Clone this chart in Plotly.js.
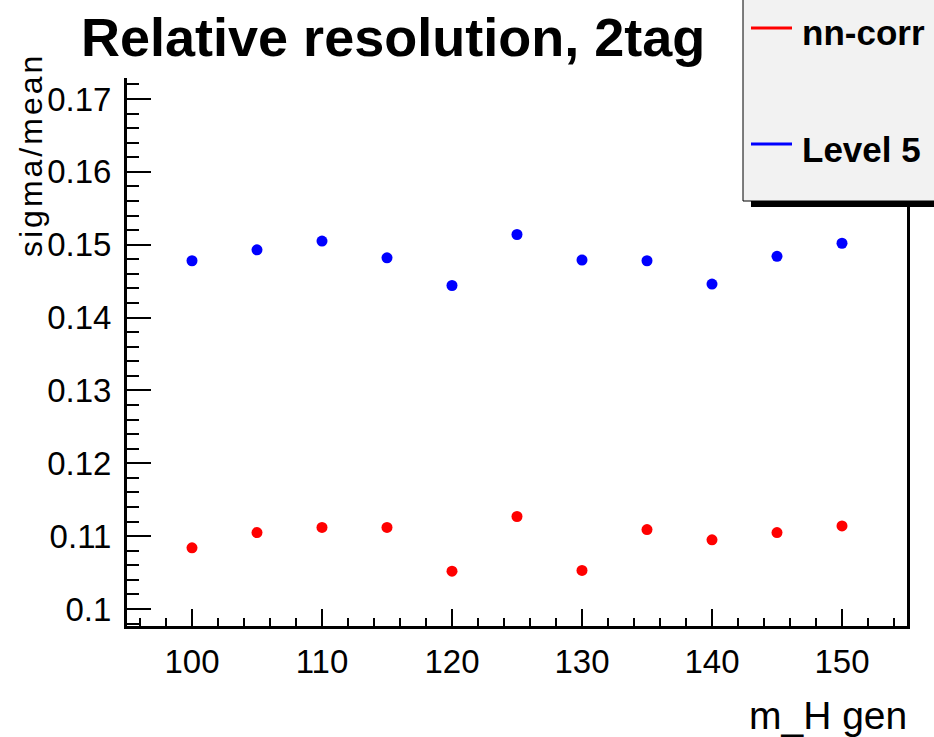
<!DOCTYPE html>
<html>
<head>
<meta charset="utf-8">
<script src="https://cdn.plot.ly/plotly-3.0.1.min.js"></script>
<style>
html, body { margin: 0; padding: 0; background: #ffffff; }
#chart { width: 934px; height: 737px; }
</style>
</head>
<body>
<div id="chart"></div>
<script>
// ---- data ----
const massValues = [100, 105, 110, 115, 120, 125, 130, 135, 140, 145, 150];
const nnCorrValues = [0.1084, 0.1105, 0.1112, 0.1112, 0.1052, 0.1127, 0.1053, 0.1109, 0.1095, 0.1105, 0.1114];
const level5Values = [0.1478, 0.1493, 0.1505, 0.1482, 0.1444, 0.1514, 0.1479, 0.1478, 0.1446, 0.1484, 0.1502];
const seriesNames = ["nn-corr", "Level 5"];
const seriesColors = ["#ff0000", "#0000ff"];
const chartTitle = "Relative resolution, 2tag";
const xTitle = "m_H gen";
const yTitle = "sigma/mean";

// ---- layout geometry (pixels) ----
const W = 934, H = 737;
const L = 127, R = 907, T = 78, B = 626;
const px = v => (v - L) / (R - L);
const py = v => (B - v) / (B - T);
const FONT = "Liberation Sans, Arial, Helvetica, sans-serif";

const traces = [
  { x: massValues, y: nnCorrValues, name: seriesNames[0], type: "scatter", mode: "markers",
    marker: { color: seriesColors[0], size: 11, symbol: "circle" } },
  { x: massValues, y: level5Values, name: seriesNames[1], type: "scatter", mode: "markers",
    marker: { color: seriesColors[1], size: 11, symbol: "circle" } }
];

const shapes = [
  // legend shadow
  { type: "rect", xref: "paper", yref: "paper", x0: px(751), x1: px(945), y0: py(207), y1: py(200),
    fillcolor: "#000000", line: { width: 0 }, layer: "above" },
  // legend box
  { type: "rect", xref: "paper", yref: "paper", x0: px(743), x1: px(945), y0: py(201), y1: py(-10),
    fillcolor: "#f2f2f2", line: { color: "#000000", width: 1 }, layer: "above" },
  // legend line samples
  { type: "line", xref: "paper", yref: "paper", x0: px(751), x1: px(792), y0: py(28), y1: py(28),
    line: { color: seriesColors[0], width: 3 }, layer: "above" },
  { type: "line", xref: "paper", yref: "paper", x0: px(751), x1: px(792), y0: py(144), y1: py(144),
    line: { color: seriesColors[1], width: 3 }, layer: "above" }
];

const annotations = [
  { text: "<b>" + seriesNames[0] + "</b>", xref: "paper", yref: "paper", x: px(800), y: py(32),
    xanchor: "left", yanchor: "middle", showarrow: false,
    font: { family: FONT, size: 35, color: "#000000" } },
  { text: "<b>" + seriesNames[1] + "</b>", xref: "paper", yref: "paper", x: px(800), y: py(150),
    xanchor: "left", yanchor: "middle", showarrow: false,
    font: { family: FONT, size: 35, color: "#000000" } },
  { text: '<span style="letter-spacing:3px">' + yTitle + '</span>', xref: "paper", yref: "paper",
    x: px(31), y: py(155), xanchor: "center", yanchor: "middle", textangle: -90, showarrow: false,
    font: { family: FONT, size: 32, color: "#000000" } },
  { text: xTitle, xref: "paper", yref: "paper", x: px(909), y: py(715),
    xanchor: "right", yanchor: "middle", showarrow: false,
    font: { family: FONT, size: 39, color: "#000000" } }
];

const layout = {
  width: W, height: H,
  margin: { l: L, r: W - R, t: T, b: H - B, pad: 0 },
  paper_bgcolor: "#ffffff", plot_bgcolor: "#ffffff",
  showlegend: false,
  title: { text: "<b>" + chartTitle + "</b>", xref: "container", yref: "container",
    x: 81 / W, xanchor: "left", y: 1 - 37 / H, yanchor: "middle",
    font: { family: FONT, size: 54, color: "#000000" } },
  xaxis: {
    range: [95, 155], dtick: 10, tick0: 100,
    showline: true, linecolor: "#000000", linewidth: 3, mirror: false,
    ticks: "inside", ticklen: 17, tickwidth: 2, tickcolor: "#000000",
    minor: { ticks: "inside", ticklen: 8, tickwidth: 2, dtick: 2, tick0: 100, tickcolor: "#000000", showgrid: false },
    showgrid: false, zeroline: false,
    ticklabelstandoff: 4,
    tickfont: { family: FONT, size: 33, color: "#000000" }
  },
  yaxis: {
    range: [0.09767, 0.17288], dtick: 0.01, tick0: 0.1,
    showline: true, linecolor: "#000000", linewidth: 3, mirror: true,
    ticks: "inside", ticklen: 24, tickwidth: 2, tickcolor: "#000000",
    minor: { ticks: "inside", ticklen: 12, tickwidth: 2, dtick: 0.002, tick0: 0.1, tickcolor: "#000000", showgrid: false },
    showgrid: false, zeroline: false,
    ticklabelstandoff: 6,
    tickfont: { family: FONT, size: 33, color: "#000000" }
  },
  shapes: shapes,
  annotations: annotations
};

Plotly.newPlot("chart", traces, layout, { displayModeBar: false, staticPlot: true });
</script>
</body>
</html>
